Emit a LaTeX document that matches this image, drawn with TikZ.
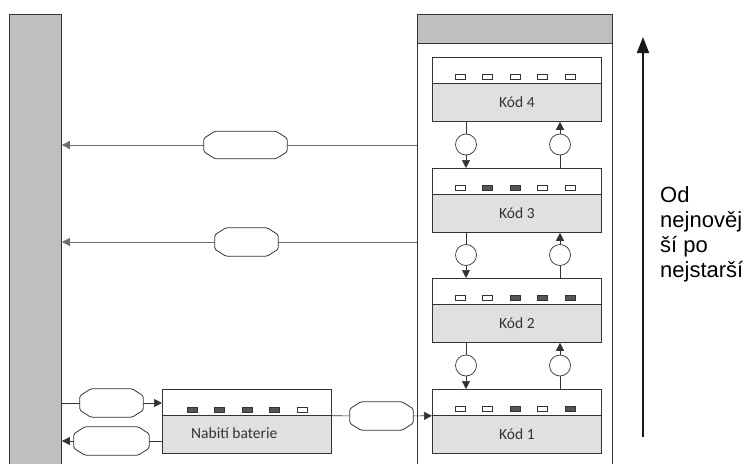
\documentclass[tikz,border=0pt]{standalone}
\usepackage{fontspec}
\setmainfont{Carlito}
\newfontfamily\arialf{Liberation Sans}
\usetikzlibrary{arrows.meta,calc}
\definecolor{bargray}{HTML}{BFBFBF}
\definecolor{boxgray}{HTML}{E0E0E0}
\definecolor{edge}{HTML}{333333}
\definecolor{linegray}{HTML}{6E6E6E}
\definecolor{darksq}{HTML}{555555}
\definecolor{txtgray}{HTML}{333333}
\tikzset{
  bar/.style={draw=edge, fill=bargray, line width=0.9pt, inner sep=0pt, anchor=north west},
  frame/.style={draw=edge, line width=0.9pt, inner sep=0pt, anchor=north west},
  toppart/.style={draw=edge, fill=white, line width=0.8pt, minimum width=169pt, minimum height=26pt, inner sep=0pt, anchor=north west},
  botpart/.style={draw=edge, fill=boxgray, line width=0.8pt, minimum width=169pt, minimum height=38pt, inner sep=0pt, anchor=north west, font=\fontsize{15.5}{18}\selectfont, text=txtgray},
  sqon/.style={draw=edge, fill=darksq, minimum width=10pt, minimum height=5pt, inner sep=0pt, line width=0.6pt},
  sqoff/.style={draw=edge, fill=white, minimum width=10pt, minimum height=5pt, inner sep=0pt, line width=0.6pt},
  ring/.style={circle, draw=edge, fill=white, minimum size=21pt, inner sep=0pt, line width=0.7pt},
  conn/.style={draw=linegray, line width=0.8pt},
  vconn/.style={draw=edge, line width=0.7pt},
  tip/.style={-{Triangle[length=8pt,width=8pt]}},
  tagbox/.style={draw=none, inner sep=0pt, minimum height=28pt},
}
\newcommand\tagshape[1]{%
  \draw[edge, line width=0.8pt, fill=white, rounded corners=1.5pt]
    ([xshift=11pt]#1.north west) -- ([xshift=-11pt]#1.north east)
    -- ([yshift=-7pt]#1.north east) -- ([yshift=7pt]#1.south east)
    -- ([xshift=-11pt]#1.south east) -- ([xshift=11pt]#1.south west)
    -- ([yshift=7pt]#1.south west) -- ([yshift=-7pt]#1.north west) -- cycle;}
\begin{document}
\begin{tikzpicture}[x=1pt,y=-1pt]
\useasboundingbox (0,0) rectangle (754,463);
% left bar
\node[bar, minimum width=52pt, minimum height=460pt] (lb) at (9,14) {};
% container
\node[frame, minimum width=195pt, minimum height=460pt] (ct) at (417,14) {};
\node[bar, minimum width=195pt, minimum height=29pt] (hd) at (417,14) {};
% Kod boxes
\foreach \n/\t in {4/57,3/168,2/278,1/389}{
  \node[toppart] (k\n t) at (432,\t) {};
  \node[botpart] (k\n b) at (432,\t+26) {Kód \n};
}
% squares
\foreach \n/\t/\pat in {4/57/{0,0,0,0,0},3/168/{0,1,1,0,0},2/278/{0,0,1,1,1},1/389/{0,0,1,0,1}}{
  \foreach \s [count=\i] in \pat{
    \ifnum\s=1
      \node[sqon] (s\n-\i) at (432+27.5*\i+0.5,\t+20) {};
    \else
      \node[sqoff] (s\n-\i) at (432+27.5*\i+0.5,\t+20) {};
    \fi
  }
}
% Nabiti baterie
\node[toppart] (nt) at (162,389) {};
\node[botpart] (nb) at (162,415) {};
\node[anchor=west, inner sep=0pt, font=\fontsize{15.5}{18}\selectfont, text=txtgray] (nl) at ([xshift=29pt,yshift=1pt]nb.west) {Nabití baterie};
\foreach \s [count=\i] in {1,1,1,1,0}{
  \ifnum\s=1
    \node[sqon] (ns\i) at (162+27.5*\i+2.5,409.5) {};
  \else
    \node[sqoff] (ns\i) at (162+27.5*\i+2.5,409.5) {};
  \fi
}
% rings between boxes
\foreach \u/\d/\y in {4/3/144.5,3/2/255,2/1/365.5}{
  \node[ring] (cl\u) at (466,\y) {};
  \node[ring] (cr\u) at (560,\y) {};
  \draw[vconn] (k\u b.south -| cl\u) -- (cl\u);
  \draw[vconn, tip] (cl\u) -- (k\d t.north -| cl\u);
  \draw[vconn] (k\d t.north -| cr\u) -- (cr\u);
  \draw[vconn, tip] (cr\u) -- (k\u b.south -| cr\u);
}
% tags
\node[tagbox, minimum width=83pt, minimum height=27pt] (g1) at (245.5,145) {};
\node[tagbox, minimum width=63pt] (g2) at (246.5,242) {};
\node[tagbox, minimum width=63pt] (g3) at (111.5,403) {};
\node[tagbox, minimum width=75pt] (g4) at (111.5,441) {};
\node[tagbox, minimum width=63pt] (g5) at (381.5,416) {};
% connectors
\draw[conn] (ct.west |- g1) -- (g1);
\draw[conn, tip] (g1) -- (lb.east |- g1);
\draw[conn] (ct.west |- g2) -- (g2);
\draw[conn, tip] (g2) -- (lb.east |- g2);
\draw[vconn] (lb.east |- g3) -- (g3);
\draw[vconn, tip] (g3) -- (nt.west |- g3);
\draw[vconn] (nb.west |- g4) -- (g4);
\draw[vconn, tip] (g4) -- (lb.east |- g4);
\draw[vconn] (nt.south east) -- (g5);
\draw[vconn, tip] (g5) -- (k1t.south west);
\tagshape{g1}\tagshape{g2}\tagshape{g3}\tagshape{g4}\tagshape{g5}
% time arrow
\coordinate (ab) at (643,437);
\coordinate (at) at (643,37);
\draw[line width=1.8pt, color=black!90, -{Triangle[length=16pt,width=12pt]}] (ab) -- (at);
\node[anchor=north west, inner sep=0pt, align=left, font=\arialf\fontsize{22}{25}\selectfont] (lbl) at (660,186) {Od\\nejnověj\\ší po\\nejstarší};
\end{tikzpicture}
\end{document}
